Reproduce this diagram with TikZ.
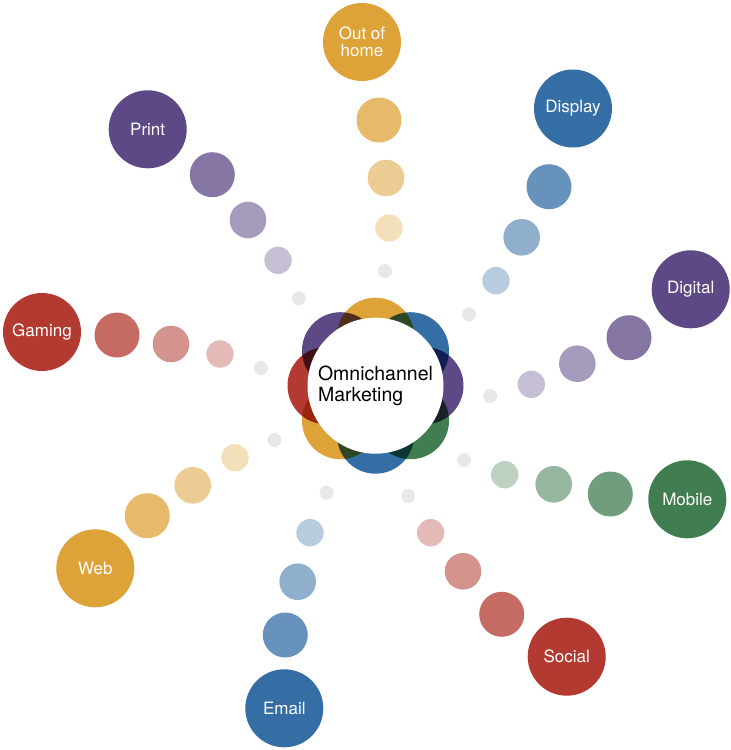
\documentclass[tikz,border=0pt]{standalone}
\usepackage{fontspec}
\setmainfont{TeX Gyre Heros}
\definecolor{omnOrange}{RGB}{221,163,56}
\definecolor{omnBlue}{RGB}{52,110,164}
\definecolor{omnPurple}{RGB}{93,73,133}
\definecolor{omnGreen}{RGB}{64,125,80}
\definecolor{omnRed}{RGB}{178,58,48}
\begin{document}
\begin{tikzpicture}[x=1pt,y=-1pt]
			\tikzset{lbl/.style={circle, fill=#1, text=white, inner sep=0, minimum size=78pt, font=\fontsize{17}{17}\selectfont}}
			\tikzset{dota/.style={circle, fill=#1!75, inner sep=0, minimum size=45pt}}
			\tikzset{dotb/.style={circle, fill=#1!55, inner sep=0, minimum size=36.6pt}}
			\tikzset{dotc/.style={circle, fill=#1!35, inner sep=0, minimum size=27.4pt}}
			\tikzset{dotd/.style={circle, fill=#1!15!blue!4!black!9, inner sep=0, minimum size=14pt}}
			\tikzset{petal/.style={circle, fill=#1, inner sep=0, minimum size=77pt}}
			\useasboundingbox (0,0) rectangle (731,750);

			% Out of home
			\node[lbl=omnOrange, align=center] (ooh) at (362,42) {Out of\\home};
			\node[dota=omnOrange] (ooh1) at (379,120) {};
			\node[dotb=omnOrange] (ooh2) at (386,178) {};
			\node[dotc=omnOrange] (ooh3) at (389,228) {};
			\node[dotd=omnOrange] (ooh4) at (385,271) {};

			% Display
			\node[lbl=omnBlue] (disp) at (573,108.5) {Display};
			\node[dota=omnBlue] (disp1) at (549,186.7) {};
			\node[dotb=omnBlue] (disp2) at (521.7,237.3) {};
			\node[dotc=omnBlue] (disp3) at (496,280.7) {};
			\node[dotd=omnBlue] (disp4) at (469,314.3) {};

			% Digital
			\node[lbl=omnPurple] (digi) at (690.7,289.3) {Digital};
			\node[dota=omnPurple] (digi1) at (629,337.7) {};
			\node[dotb=omnPurple] (digi2) at (577.3,363.7) {};
			\node[dotc=omnPurple] (digi3) at (531.3,384.3) {};
			\node[dotd=omnPurple] (digi4) at (490,396) {};

			% Mobile
			\node[lbl=omnGreen] (mobi) at (687.3,499.3) {Mobile};
			\node[dota=omnGreen] (mobi1) at (610.3,494) {};
			\node[dotb=omnGreen] (mobi2) at (553.7,484.3) {};
			\node[dotc=omnGreen] (mobi3) at (504.7,474.7) {};
			\node[dotd=omnGreen] (mobi4) at (464,460) {};

			% Social
			\node[lbl=omnRed] (soci) at (566.7,656.7) {Social};
			\node[dota=omnRed] (soci1) at (501.7,614.3) {};
			\node[dotb=omnRed] (soci2) at (463,571.3) {};
			\node[dotc=omnRed] (soci3) at (430.7,532.7) {};
			\node[dotd=omnRed] (soci4) at (408.3,496) {};

			% Email
			\node[lbl=omnBlue] (mail) at (284.3,708.3) {Email};
			\node[dota=omnBlue] (mail1) at (285.3,635) {};
			\node[dotb=omnBlue] (mail2) at (297.7,581.7) {};
			\node[dotc=omnBlue] (mail3) at (310,532.7) {};
			\node[dotd=omnBlue] (mail4) at (326.7,492.7) {};

			% Web
			\node[lbl=omnOrange] (web) at (95.3,568.3) {Web};
			\node[dota=omnOrange] (web1) at (147.3,515.7) {};
			\node[dotb=omnOrange] (web2) at (192.7,485.3) {};
			\node[dotc=omnOrange] (web3) at (235,457.7) {};
			\node[dotd=omnOrange] (web4) at (274.3,440) {};

			% Gaming
			\node[lbl=omnRed] (game) at (42,332) {Gaming};
			\node[dota=omnRed] (game1) at (117,335) {};
			\node[dotb=omnRed] (game2) at (171,344) {};
			\node[dotc=omnRed] (game3) at (220,354) {};
			\node[dotd=omnRed] (game4) at (261,368) {};

			% Print
			\node[lbl=omnPurple] (prnt) at (147.7,129.3) {Print};
			\node[dota=omnPurple] (prnt1) at (212.3,174.7) {};
			\node[dotb=omnPurple] (prnt2) at (248,220) {};
			\node[dotc=omnPurple] (prnt3) at (278,260.3) {};
			\node[dotd=omnPurple] (prnt4) at (298.7,298.3) {};

			% Petals round the hub
			\begin{scope}[blend group=multiply]
				\node[petal=omnOrange] (p1) at (375.5,336.2) {};
				\node[petal=omnBlue] (p2) at (410.5,350.7) {};
				\node[petal=omnPurple] (p3) at (425,385.7) {};
				\node[petal=omnGreen] (p4) at (410.5,420.7) {};
				\node[petal=omnBlue] (p5) at (375.5,435.2) {};
				\node[petal=omnOrange] (p6) at (340.5,420.7) {};
				\node[petal=omnRed] (p7) at (326,385.7) {};
				\node[petal=omnPurple] (p8) at (340.5,350.7) {};
			\end{scope}

			% Hub
			\node[circle, fill=white, inner sep=0, minimum size=136pt, align=left, font=\fontsize{19.5}{21.7}\selectfont] (omni) at (375.5,385.7) {Omnichannel\\Marketing};
		\end{tikzpicture}
\end{document}
